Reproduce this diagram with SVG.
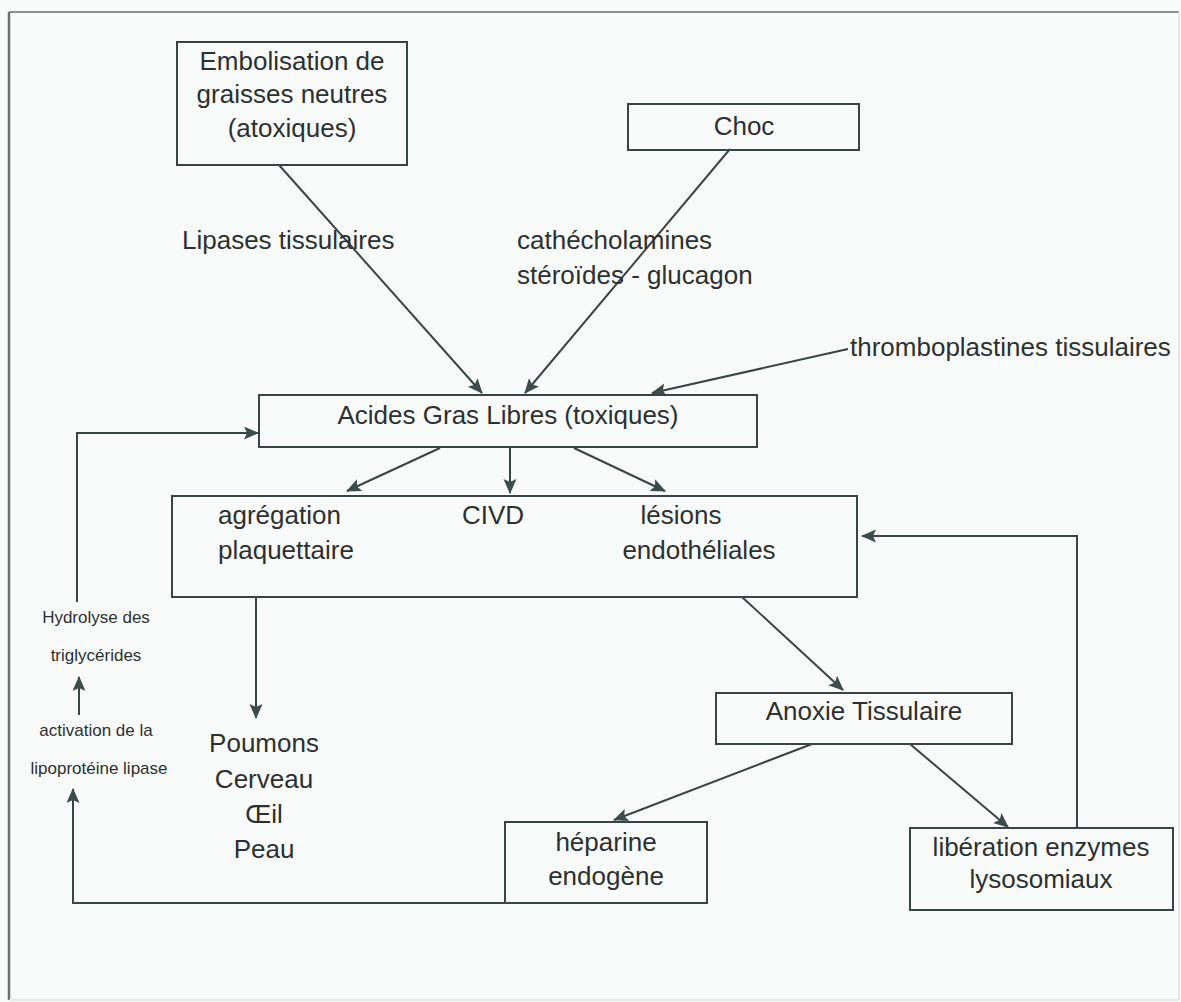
<svg xmlns="http://www.w3.org/2000/svg" width="1181" height="1002" viewBox="0 0 1181 1002">
  <defs>
    <marker id="ah" markerUnits="userSpaceOnUse" markerWidth="16" markerHeight="14" refX="14" refY="6.5" orient="auto">
      <path d="M0,0 L15,6.5 L0,13 L3,6.5 z" fill="#3c4c4c"/>
    </marker>
    <style>
      .box { fill: none; stroke: #3a4444; stroke-width: 2; }
      .t { font-family: "Liberation Sans", Arial, sans-serif; font-size: 26px; fill: #2c3030; }
      .s { font-family: "Liberation Sans", Arial, sans-serif; font-size: 17px; fill: #2c3030; }
      .c { text-anchor: middle; }
      .ln { fill: none; stroke: #3a4444; stroke-width: 2; }
      .ar { fill: none; stroke: #3a4444; stroke-width: 2; marker-end: url(#ah); }
    </style>
  </defs>
  <rect x="0" y="0" width="1181" height="1002" fill="#f9fbfb"/>
  <g id="frame">
    <line x1="9" y1="12" x2="1179" y2="12" stroke="#8a9090" stroke-width="2"/>
    <line x1="9" y1="12" x2="9" y2="1000" stroke="#6a7070" stroke-width="2.5"/>
    <line x1="1179" y1="12" x2="1179" y2="1000" stroke="#dde2e2" stroke-width="1.5"/>
    <line x1="9" y1="1000" x2="1179" y2="1000" stroke="#dde2e2" stroke-width="1.5"/>
  </g>
  <g id="connectors">
    <path class="ar" d="M279,165 L482,393"/>
    <path class="ar" d="M730,149 L525,393"/>
    <path class="ar" d="M848,349 L652,393"/>
    <path class="ar" d="M77,602 V433 H258"/>
    <path class="ar" d="M79,715 V677"/>
    <path class="ar" d="M505,903 H73 V789"/>
    <path class="ar" d="M440,448 L347,491"/>
    <path class="ar" d="M510,448 V493"/>
    <path class="ar" d="M574,448 L665,491"/>
    <path class="ar" d="M256,597 V718"/>
    <path class="ar" d="M742,597 L843,690"/>
    <path class="ar" d="M812,744 L614,820"/>
    <path class="ar" d="M910,744 L1008,827"/>
    <path class="ar" d="M1077,828 V536 H862"/>
  </g>
  <g id="embolisation">
    <rect class="box" x="177" y="42" width="230" height="123"/>
    <text class="t c" x="292" y="70">Embolisation de</text>
    <text class="t c" x="292" y="103">graisses neutres</text>
    <text class="t c" x="292" y="137">(atoxiques)</text>
  </g>
  <g id="choc">
    <rect class="box" x="628" y="104" width="231" height="46"/>
    <text class="t c" x="744" y="135">Choc</text>
  </g>
  <g id="label-lipases">
    <text class="t" x="182" y="249">Lipases tissulaires</text>
  </g>
  <g id="label-hormones">
    <text class="t" x="517" y="249">cathécholamines</text>
    <text class="t" x="517" y="284">stéroïdes - glucagon</text>
  </g>
  <g id="label-thrombo">
    <text class="t" x="850" y="356">thromboplastines tissulaires</text>
  </g>
  <g id="acides">
    <rect class="box" x="259" y="395" width="498" height="52"/>
    <text class="t c" x="508" y="424">Acides Gras Libres (toxiques)</text>
  </g>
  <g id="effets">
    <rect class="box" x="172" y="496" width="685" height="101"/>
    <text class="t" x="218" y="524">agrégation</text>
    <text class="t" x="218" y="559">plaquettaire</text>
    <text class="t c" x="493" y="524">CIVD</text>
    <text class="t c" x="681" y="524">lésions</text>
    <text class="t c" x="699" y="559">endothéliales</text>
  </g>
  <g id="organes">
    <text class="t c" x="264" y="752">Poumons</text>
    <text class="t c" x="264" y="788">Cerveau</text>
    <text class="t c" x="264" y="823">Œil</text>
    <text class="t c" x="264" y="858">Peau</text>
  </g>
  <g id="anoxie">
    <rect class="box" x="716" y="693" width="296" height="51"/>
    <text class="t c" x="864" y="720">Anoxie Tissulaire</text>
  </g>
  <g id="heparine">
    <rect class="box" x="505" y="822" width="202" height="81"/>
    <text class="t c" x="606" y="851">héparine</text>
    <text class="t c" x="606" y="885">endogène</text>
  </g>
  <g id="liberation">
    <rect class="box" x="910" y="828" width="263" height="82"/>
    <text class="t c" x="1041" y="856">libération enzymes</text>
    <text class="t c" x="1041" y="888">lysosomiaux</text>
  </g>
  <g id="label-hydrolyse">
    <text class="s c" x="96" y="623">Hydrolyse des</text>
    <text class="s c" x="96" y="661">triglycérides</text>
  </g>
  <g id="label-activation">
    <text class="s c" x="96" y="736">activation de la</text>
    <text class="s c" x="99" y="774">lipoprotéine lipase</text>
  </g>
</svg>
